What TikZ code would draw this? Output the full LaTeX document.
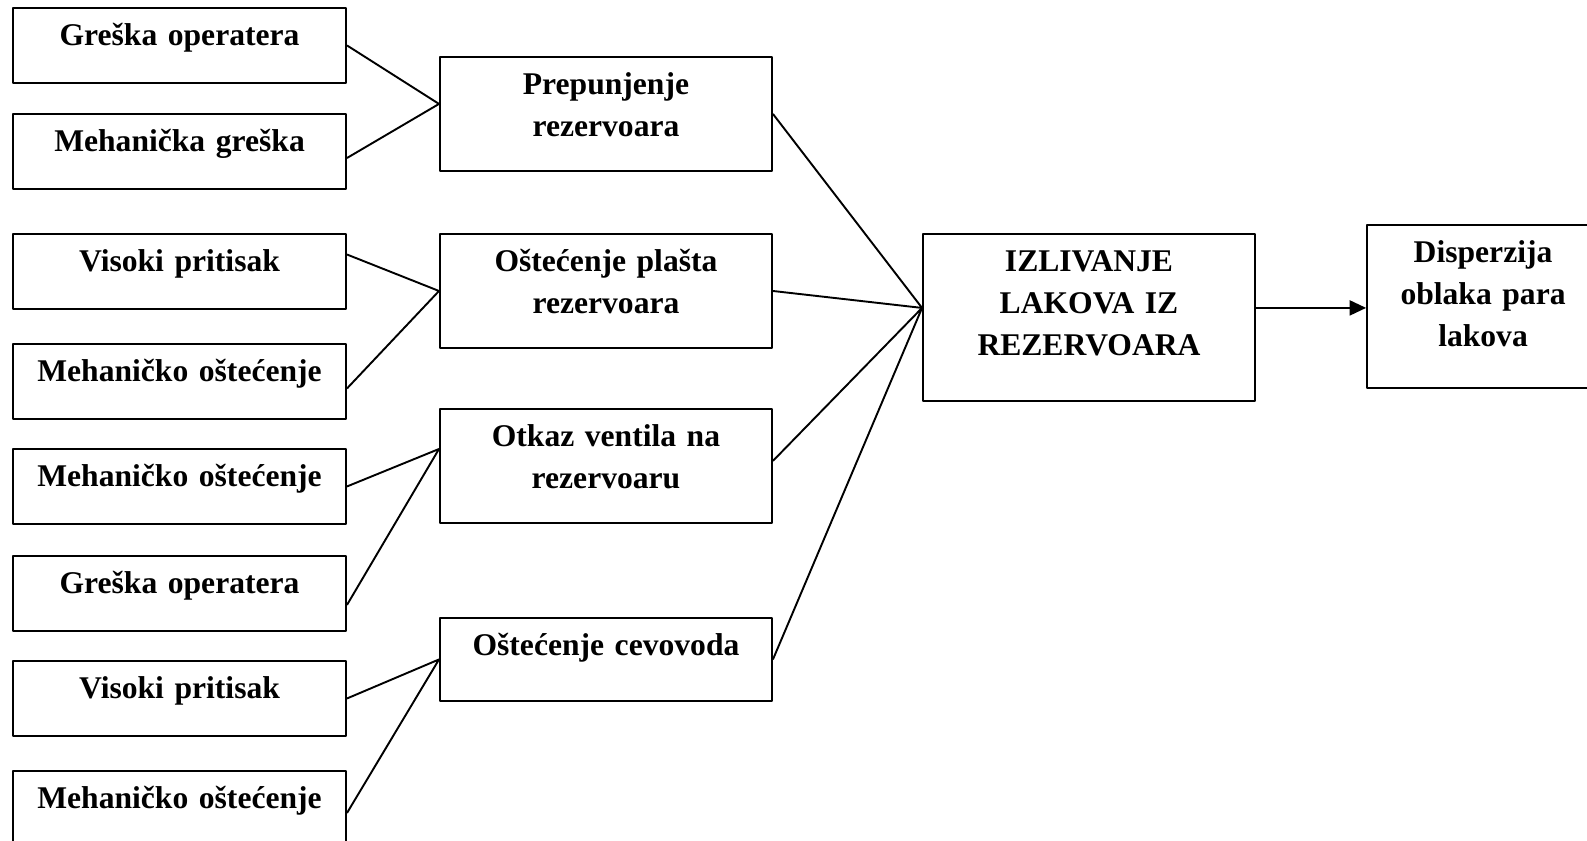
\documentclass[tikz,border=0pt]{standalone}
\usepackage{fontspec}
\setmainfont{Liberation Serif}
\usetikzlibrary{arrows.meta}
\tikzset{
  every picture/.style={line join=round, >={Triangle[length=6pt,width=5.5pt]}},
  box/.style={draw, line width=0.7pt, align=center, inner sep=0pt, anchor=north,
    font=\bfseries\fontsize{11.6}{15.4}\selectfont, text height=0.49cm, text depth=#1},
  cause/.style={box=0.478cm, text width=4.296cm},
  event/.style={box=0.981cm, text width=4.283cm},
  link/.style={line width=0.7pt},
}
\begin{document}
\begin{tikzpicture}
\useasboundingbox (0,0) rectangle (20.472,10.836);
\node[cause] (l1) at (2.316,10.746) {Greška operatera};
\node[cause] (l2) at (2.316,9.378) {Mehanička greška};
\node[cause] (l3) at (2.316,7.830) {Visoki pritisak};
\node[cause] (l4) at (2.316,6.411) {Mehaničko oštećenje};
\node[cause] (l5) at (2.316,5.057) {Mehaničko oštećenje};
\node[cause] (l6) at (2.316,3.677) {Greška operatera};
\node[cause] (l7) at (2.316,2.322) {Visoki pritisak};
\node[cause] (l8) at (2.316,0.903) {Mehaničko oštećenje};
\node[event] (m1) at (7.817,10.114) {Prepunjenje\\rezervoara};
\node[event] (m2) at (7.817,7.830) {Oštećenje plašta\\rezervoara};
\node[event] (m3) at (7.817,5.573) {Otkaz ventila na\\rezervoaru};
\node[event, text depth=0.581cm] (m4) at (7.817,2.877) {Oštećenje cevovoda};
\node[box=1.664cm, text width=4.283cm] (izl) at (14.048,7.830) {IZLIVANJE\\LAKOVA IZ\\REZERVOARA};
\node[box=1.613cm, text width=2.993cm] (disp) at (19.131,7.946) {Disperzija\\oblaka para\\lakova};
\draw[link] (l1.east) -- ([yshift=0.129cm]m1.west) -- ([yshift=-0.084cm]l2.east);
\draw[link] ([yshift=0.219cm]l3.east) -- (m2.west) -- ([yshift=-0.09cm]l4.east);
\draw[link] (l5.east) -- ([yshift=0.219cm]m3.west) -- ([yshift=-0.148cm]l6.east);
\draw[link] (l7.east) -- (m4.west) -- ([yshift=-0.058cm]l8.east);
\coordinate (ulaz) at ([yshift=0.123cm]izl.west);
\draw[link] (m1.east) -- (ulaz) -- (m2.east);
\draw[link] ([yshift=0.065cm]m3.east) -- (ulaz) -- (m4.east);
\draw[link,->] (izl.east |- ulaz) -- (disp.west |- ulaz);
\end{tikzpicture}
\end{document}
